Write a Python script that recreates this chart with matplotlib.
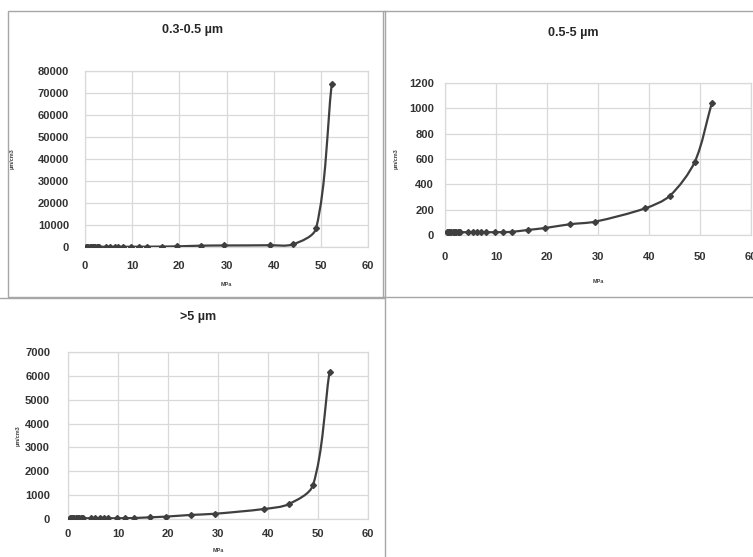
import matplotlib
matplotlib.use("Agg")
import matplotlib.pyplot as plt
import numpy as np
from matplotlib.path import Path
from matplotlib.patches import PathPatch, Rectangle

plt.rcParams['font.family'] = ['Liberation Sans', 'DejaVu Sans']

# pressure (MPa)
mpa = [0.3, 0.5, 0.7, 1.0, 1.2, 1.5, 1.7, 2.0, 2.2, 2.5, 2.7, 3.0,
       4.5, 5.4, 6.3, 7.1, 8.0, 9.8, 11.4, 13.1, 16.3, 19.6, 24.5,
       29.4, 39.2, 44.1, 49.0, 52.3]

# particle counts per size class
small = [100, 100, 100, 100, 100, 100, 100, 100, 100, 100, 100, 100,
         100, 100, 100, 100, 100, 120, 130, 150, 200, 300, 600,
         700, 800, 1200, 8500, 74000]
medium = [20, 22, 22, 22, 22, 22, 22, 22, 22, 22, 22, 22,
          22, 22, 22, 22, 22, 22, 23, 25, 40, 55, 85,
          105, 210, 310, 580, 1040]
large = [40, 50, 40, 40, 40, 40, 40, 40, 40, 30, 30, 30,
         30, 30, 30, 30, 30, 30, 35, 40, 70, 100, 170,
         220, 420, 620, 1420, 6170]

titles = ['0.3-0.5 µm', '0.5-5 µm', '>5 µm']
series = [small, medium, large]
ymax = [80000, 1200, 7000]
ystep = [10000, 200, 1000]

W, H = 753, 557
# axes boxes in pixels: left, right, top, bottom
boxes = [(85, 368, 71, 247), (445, 751, 83, 235), (68, 368, 352, 519)]
title_pos = [(193, 30), (573, 33), (198, 317)]
ylab_x = [15, 399, 21]
xlab_y = [282, 279, 548]
ypad = [16, 11, 18]
xpad = [14, 17, 10]
frames = [(8, 385, 11, 297), (383, 760, 11, 297), (-5, 385, 298, 565)]

line_col = '#3f3f3f'
grid_col = '#d9d9d9'


def smooth_path(x, y, sx, sy, tension=0.3):
    # Excel style smoothed line, tangents worked out in pixel space
    px = np.asarray(x, float) * sx
    py = np.asarray(y, float) * sy
    n = len(px)
    d = []
    for i in range(n):
        i0 = max(i - 1, 0)
        i1 = min(i + 1, n - 1)
        v = np.array([px[i1] - px[i0], py[i1] - py[i0]])
        nv = np.hypot(*v)
        d.append(v / nv if nv > 0 else v)
    verts = [(x[0], y[0])]
    codes = [Path.MOVETO]
    for i in range(n - 1):
        seg = np.hypot(px[i + 1] - px[i], py[i + 1] - py[i]) * tension
        c1 = (px[i] + d[i][0] * seg, py[i] + d[i][1] * seg)
        c2 = (px[i + 1] - d[i + 1][0] * seg, py[i + 1] - d[i + 1][1] * seg)
        verts += [(c1[0] / sx, c1[1] / sy), (c2[0] / sx, c2[1] / sy),
                  (x[i + 1], y[i + 1])]
        codes += [Path.CURVE4] * 3
    return Path(verts, codes)


fig = plt.figure(figsize=(W / 100, H / 100), dpi=100)
fig.patch.set_facecolor('white')

for (l, r, t, b) in frames:
    fig.patches.append(Rectangle((l / W, 1 - b / H), (r - l) / W, (b - t) / H,
                                 transform=fig.transFigure, fill=False,
                                 edgecolor='#a6a6a6', lw=1.0))

for k in range(3):
    l, r, t, b = boxes[k]
    ax = fig.add_axes([l / W, 1 - b / H, (r - l) / W, (b - t) / H])
    sx = (r - l) / 60.0
    sy = (b - t) / ymax[k]
    ax.add_patch(PathPatch(smooth_path(mpa, series[k], sx, sy), fill=False,
                           edgecolor=line_col, lw=1.6, zorder=3))
    ax.plot(mpa, series[k], linestyle='none', marker='D', ms=3,
            color=line_col, zorder=4)
    ax.set_xlim(0, 60)
    ax.set_ylim(0, ymax[k])
    ax.set_xticks(np.arange(0, 61, 10))
    ax.set_yticks(np.arange(0, ymax[k] + 1, ystep[k]))
    ax.grid(True, color=grid_col, lw=0.9)
    ax.set_axisbelow(True)
    for s in ax.spines.values():
        s.set_color(grid_col)
        s.set_linewidth(0.9)
    ax.tick_params(length=0, labelsize=8, colors='#333333')
    ax.tick_params(axis='y', pad=ypad[k] * 0.72)
    ax.tick_params(axis='x', pad=xpad[k] * 0.72)
    for lab in ax.get_xticklabels() + ax.get_yticklabels():
        lab.set_fontweight('bold')
    ax.set_xlabel('MPa', fontsize=4, fontweight='bold', color='#404040')
    ax.xaxis.set_label_coords(0.5, -(xlab_y[k] - b) / (b - t))
    ax.set_ylabel('µm/cm3', fontsize=4, fontweight='bold', color='#404040')
    ax.yaxis.set_label_coords((ylab_x[k] - l) / (r - l), 0.5)
    tx, ty = title_pos[k]
    fig.text(tx / W, 1 - ty / H, titles[k], ha='center', va='center',
             fontsize=9, fontweight='bold', color='#262626')

fig.savefig('out.png', dpi=100, facecolor='white')
